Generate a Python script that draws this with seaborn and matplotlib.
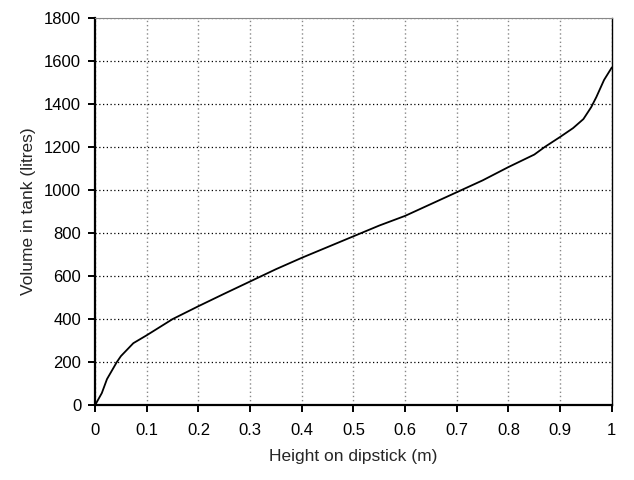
import numpy as np
import pandas as pd
import matplotlib
matplotlib.use("Agg")
import matplotlib.pyplot as plt
import seaborn as sns

# dipstick height (m) vs volume in tank (litres)
height = [0, 0.013, 0.023, 0.042, 0.05, 0.074, 0.1, 0.15, 0.2, 0.25, 0.3,
          0.35, 0.4, 0.45, 0.5, 0.55, 0.6, 0.65, 0.7, 0.75, 0.8, 0.85,
          0.87, 0.9, 0.925, 0.945, 0.96, 0.97, 0.985, 1.0]
volume = [0, 56, 121, 200, 228, 288, 325, 400, 460, 518, 575,
          632, 685, 735, 785, 835, 880, 935, 990, 1045, 1107, 1165,
          1200, 1247, 1288, 1330, 1385, 1432, 1512, 1570]

x_ticks = [0, 0.1, 0.2, 0.3, 0.4, 0.5, 0.6, 0.7, 0.8, 0.9, 1]
x_labels = ["0", "0.1", "0.2", "0.3", "0.4", "0.5", "0.6", "0.7", "0.8", "0.9", "1"]
y_ticks = list(range(0, 1801, 200))

sns.set_style("white")
plt.rcParams["font.family"] = ["Liberation Sans", "DejaVu Sans"]

df = pd.DataFrame({"height": height, "volume": volume})

fig = plt.figure(figsize=(6.34, 4.8), dpi=100)
ax = fig.add_axes([0.150, 0.156, 0.815, 0.8065])

sns.lineplot(data=df, x="height", y="volume", color="black", linewidth=1.3, ax=ax)

ax.set_xlim(0, 1)
ax.set_ylim(0, 1800)
ax.set_xticks(x_ticks)
ax.set_xticklabels(x_labels)
ax.set_yticks(y_ticks)

ax.xaxis.grid(True, color="#888888", linestyle=(0, (1, 2)), linewidth=1)
ax.yaxis.grid(True, color="black", linestyle=(0, (1, 2)), linewidth=0.9)
ax.set_axisbelow(True)

for side in ["left", "bottom"]:
    ax.spines[side].set_color("black")
    ax.spines[side].set_linewidth(1.6)
ax.spines["top"].set_color("#888888")
ax.spines["top"].set_linewidth(0.8)
ax.spines["right"].set_color("black")
ax.spines["right"].set_linewidth(1.0)

ax.tick_params(axis="both", direction="out", length=5, width=1.4, color="black",
               labelsize=12, labelcolor="black", bottom=True, left=True)
ax.tick_params(axis="x", pad=8)
ax.tick_params(axis="y", pad=5)

ax.set_xlabel("Height on dipstick (m)", fontsize=12.5, labelpad=8)
ax.set_ylabel("Volume in tank (litres)", fontsize=12.5, labelpad=6)

fig.savefig("out.png", dpi=100)
